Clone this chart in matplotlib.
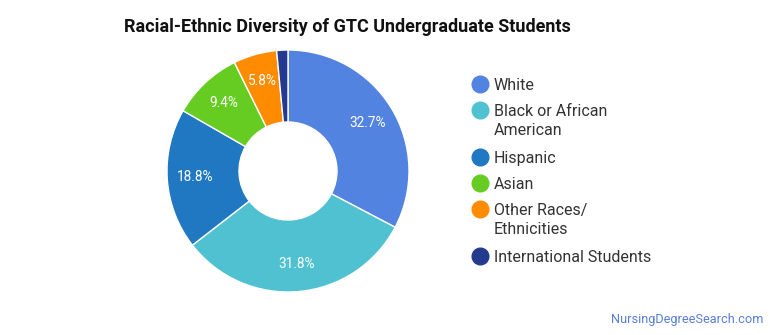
import matplotlib
matplotlib.use("Agg")
import matplotlib.pyplot as plt
from matplotlib.lines import Line2D

groups = ["White", "Black or African\nAmerican", "Hispanic", "Asian",
          "Other Races/\nEthnicities", "International Students"]
shares = [32.7, 31.8, 18.8, 9.4, 5.8, 1.5]
colors = ["#5283e0", "#4fc1d0", "#1f78c1", "#66cc22", "#ff8c00", "#233a8e"]

plt.rcParams["font.family"] = ["Roboto", "DejaVu Sans"]

W, H = 770, 335
fig = plt.figure(figsize=(W / 100, H / 100), dpi=100)

# donut: centre (288, 171) px, outer radius 121 px, inner 49 px
cx, cy, r = 288, 171, 121
ax = fig.add_axes([(cx - r) / W, (H - cy - r) / H, 2 * r / W, 2 * r / H])
ax.pie(shares, colors=colors, startangle=90, counterclock=False, radius=1.0,
       autopct=lambda p: f"{p:.1f}%" if p > 3 else "", pctdistance=0.77,
       wedgeprops=dict(width=1 - 49 / 121, edgecolor="white", linewidth=1),
       textprops=dict(color="white", fontsize=9.8))
ax.set_xlim(-1, 1); ax.set_ylim(-1, 1)
ax.set_aspect("equal")
ax.axis("off")

fig.text(124 / W, 1 - 27 / H, "Racial-Ethnic Diversity of GTC Undergraduate Students",
         fontsize=13, fontweight="bold", color="#111111", va="center", ha="left")

# legend, drawn by hand so wrapped labels line up like the original
y = 84
for lab, col in zip(groups, colors):
    fig.add_artist(Line2D([480 / W], [1 - y / H], marker="o", markersize=12,
                          color=col, linestyle="none", transform=fig.transFigure))
    fig.text(494 / W, 1 - (y - 6) / H, lab, fontsize=11.5, color="#333333",
             va="top", ha="left", linespacing=1.33)
    y += 26 + 21 * lab.count("\n")

fig.text(763 / W, 1 - 320 / H, "NursingDegreeSearch.com", fontsize=9.2,
         color="#5a7fd6", ha="right", va="center")

fig.savefig("out.png", dpi=100)
